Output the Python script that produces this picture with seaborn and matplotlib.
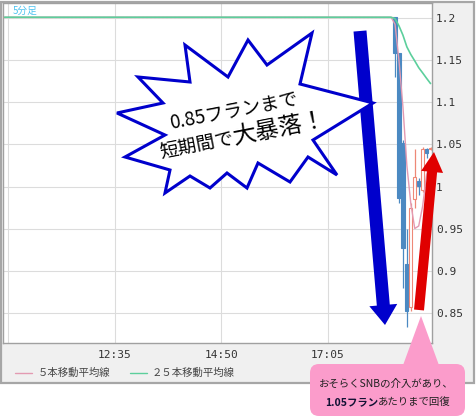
import numpy as np
import pandas as pd
import matplotlib
matplotlib.use("Agg")
import matplotlib.pyplot as plt
from matplotlib.patches import Rectangle, Polygon, FancyArrow, FancyBboxPatch
import seaborn as sns

# ---- data: EUR/CHF 5-minute bars, 10:15 - 19:15 ----
times = pd.date_range("2015-01-15 10:15", "2015-01-15 19:15",
                      freq="5min").strftime("%H:%M").tolist()

# 10:15 - 18:25: price pinned at the floor
flat_close = [
    1.2010, 1.2010, 1.2010, 1.2010, 1.2010, 1.2010, 1.2010, 1.2010, 1.2010, 1.2010, 1.2010,
    1.2010, 1.2010, 1.2010, 1.2010, 1.2010, 1.2010, 1.2010, 1.2010, 1.2010, 1.2010, 1.2010,
    1.2010, 1.2010, 1.2010, 1.2010, 1.2010, 1.2010, 1.2010, 1.2010, 1.2010, 1.2010, 1.2010,
    1.2010, 1.2010, 1.2010, 1.2010, 1.2010, 1.2010, 1.2010, 1.2010, 1.2010, 1.2010, 1.2010,
    1.2010, 1.2010, 1.2010, 1.2010, 1.2010, 1.2010, 1.2010, 1.2010, 1.2010, 1.2010, 1.2010,
    1.2010, 1.2010, 1.2010, 1.2010, 1.2010, 1.2010, 1.2010, 1.2010, 1.2010, 1.2010, 1.2010,
    1.2010, 1.2010, 1.2010, 1.2010, 1.2010, 1.2010, 1.2010, 1.2010, 1.2010, 1.2010, 1.2010,
    1.2010, 1.2010, 1.2010, 1.2010, 1.2010, 1.2010, 1.2010, 1.2010, 1.2010, 1.2010, 1.2010,
    1.2010, 1.2010, 1.2010, 1.2010, 1.2010, 1.2010, 1.2010, 1.2010, 1.2010, 1.2010, 1.2010,
]

# 18:30 - 19:15: the shock and the rebound
shock_open  = [1.2010, 1.1590, 1.0520, 0.9080, 0.8570, 0.9850, 1.0070, 0.9960, 1.0450, 1.0440]
shock_high  = [1.2015, 1.1590, 1.0550, 0.9500, 0.9800, 1.0450, 1.0100, 1.0470, 1.0460, 1.0465]
shock_low   = [1.1300, 0.9800, 0.8800, 0.8330, 0.8520, 0.9750, 0.9900, 0.9930, 1.0340, 1.0430]
shock_close = [1.1590, 0.9860, 0.9270, 0.8520, 0.9750, 1.0110, 1.0010, 1.0450, 1.0400, 1.0460]

y_ticks = [0.85, 0.9, 0.95, 1.0, 1.05, 1.1, 1.15, 1.2]
y_tick_labels = ["0.85", "0.9", "0.95", "1", "1.05", "1.1", "1.15", "1.2"]
grid_times = ["10:20", "12:35", "14:50", "17:05"]
label_times = ["12:35", "14:50", "17:05"]

ma_labels = ["５本移動平均線", "２５本移動平均線"]
burst_line1 = "0.85フランまで"
burst_line2a = "短期間で"
burst_line2b = "大暴落！"
note_line1 = "おそらくSNBの介入があり、"
note_line2_bold = "1.05フラン"
note_line2_rest = "あたりまで回復"

# ---- frame ----
df = pd.DataFrame({
    "time": times,
    "open": flat_close + shock_open,
    "high": flat_close + shock_high,
    "low": flat_close + shock_low,
    "close": flat_close + shock_close,
})
df["pos"] = np.arange(len(df))
df["ma5"] = df["close"].rolling(5, min_periods=1).mean()
df["ma25"] = df["close"].rolling(25, min_periods=1).mean()

# ---- style ----
sns.set_style("white")
plt.rcParams["font.family"] = ["Noto Sans CJK JP", "DejaVu Sans"]

W, H = 477, 420
fig = plt.figure(figsize=(W / 100, H / 100), dpi=100)
fig.patch.set_facecolor("white")

# light grey panel behind the chart
bg = fig.add_axes([0, 0, 1, 1], zorder=0)
bg.set_xlim(0, W); bg.set_ylim(H, 0); bg.axis("off")
bg.add_patch(Rectangle((1.5, 1.5), 473, 381, facecolor="#f0f0f0",
                       edgecolor="#a6a6a6", lw=1.6))

# main price axes
ax = fig.add_axes([3 / W, 1 - 343 / H, 429 / W, 340 / H], zorder=1)
ax.set_facecolor("white")
ax.set_xlim(-0.39, 108.37)
ax.set_ylim(0.8143, 1.2179)

pos_of = {t: i for i, t in enumerate(times)}
ax.set_xticks([pos_of[t] for t in grid_times])
ax.set_xticklabels([t if t in label_times else "" for t in grid_times],
                   family="DejaVu Sans Mono", fontsize=8, color="#333333")
ax.yaxis.tick_right()
ax.set_yticks(y_ticks)
ax.set_yticklabels(y_tick_labels, family="DejaVu Sans Mono", fontsize=8, color="#333333")
ax.tick_params(axis="both", length=0)
ax.tick_params(axis="x", pad=5)
ax.tick_params(axis="y", pad=3)
ax.grid(True, color="#dcdcdc", lw=0.8)
ax.set_axisbelow(True)
for s in ax.spines.values():
    s.set_color("#a0a0a0")
    s.set_linewidth(1.0)

# candlesticks
up_col, down_col = "#ee8877", "#4b89c2"
bull = df["close"] >= df["open"]
for frame, fc, ec in [(df[~bull], down_col, down_col), (df[bull], "white", up_col)]:
    ax.vlines(frame["pos"], frame["low"], frame["high"], color=ec, lw=0.9, zorder=2)
    ax.bar(frame["pos"], (frame["close"] - frame["open"]).abs(),
           bottom=frame[["open", "close"]].min(axis=1), width=0.8,
           facecolor=fc, edgecolor=ec, lw=0.8, zorder=3)

# moving averages
ma5_col, ma25_col = "#e39ab2", "#5ccf9c"
sns.lineplot(data=df, x="pos", y="ma5", color=ma5_col, lw=1.0, ax=ax, zorder=4, legend=False)
sns.lineplot(data=df, x="pos", y="ma25", color=ma25_col, lw=1.2, ax=ax, zorder=5, legend=False)
ax.set_xlabel(""); ax.set_ylabel("")

# ---- overlay in pixel units ----
ov = fig.add_axes([0, 0, 1, 1], zorder=5)
ov.set_xlim(0, W); ov.set_ylim(H, 0); ov.axis("off")
ov.patch.set_alpha(0)

ov.text(13, 11, "5分足", fontsize=7, color="#4fc4f0", va="center", ha="left")

# legend row
ov.plot([15, 32], [373, 373], color=ma5_col, lw=1.0)
ov.text(38, 373, ma_labels[0], fontsize=7.5, color="#444444", va="center", ha="left")
ov.plot([130, 147], [373, 373], color=ma25_col, lw=1.0)
ov.text(152, 373, ma_labels[1], fontsize=7.5, color="#444444", va="center", ha="left")

blue = "#0000cc"
# downward arrow
ov.add_patch(FancyArrow(360, 31, 25, 294, width=13, head_width=28, head_length=20,
                        length_includes_head=True, color=blue, lw=0))

# explosion balloon
burst = [(117, 113), (163, 103), (138, 77), (190, 82), (185, 45), (228, 77),
         (248, 40), (267, 65), (312, 33), (300, 84), (373, 103), (313, 140),
         (337, 175), (308, 157), (290, 182), (258, 163), (247, 188), (227, 173),
         (210, 188), (190, 176), (165, 193), (170, 170), (125, 157), (165, 135)]
ov.add_patch(Polygon(burst, closed=True, facecolor="white", edgecolor=blue,
                     lw=2.2, joinstyle="miter"))
ov.text(234, 111, burst_line1, fontsize=13.5, rotation=11, ha="center", va="center",
        rotation_mode="anchor", color="black")
ov.text(235, 144, burst_line2a, fontsize=13.5, rotation=11, ha="right", va="baseline",
        rotation_mode="anchor", color="black")
ov.text(235, 144, burst_line2b, fontsize=17, rotation=11, ha="left", va="baseline",
        rotation_mode="anchor", color="black")

# upward arrow
ov.add_patch(FancyArrow(419, 310, 15, -158, width=10, head_width=22, head_length=20,
                        length_includes_head=True, color="#e00000", lw=0))

# callout
pink = "#fb9ccb"
ov.add_patch(Polygon([(402, 368), (421, 316), (440, 368)], closed=True,
                     facecolor=pink, edgecolor="none"))
ov.add_patch(FancyBboxPatch((310, 364), 155, 52,
                            boxstyle="round,pad=0,rounding_size=9",
                            facecolor=pink, edgecolor="none"))
ov.text(386, 384, note_line1, fontsize=7.5, color="#222222", ha="center", va="center")

fig.canvas.draw()
r = fig.canvas.get_renderer()
t1 = ov.text(0, 402, note_line2_bold, fontsize=7.5, fontweight="bold",
             color="#111133", ha="left", va="center")
t2 = ov.text(0, 402, note_line2_rest, fontsize=7.5, color="#222222",
             ha="left", va="center")
w1 = t1.get_window_extent(r).width
w2 = t2.get_window_extent(r).width
x0 = 388 - (w1 + w2) / 2
t1.set_x(x0)
t2.set_x(x0 + w1)

fig.savefig("out.png", dpi=100, facecolor="white")
